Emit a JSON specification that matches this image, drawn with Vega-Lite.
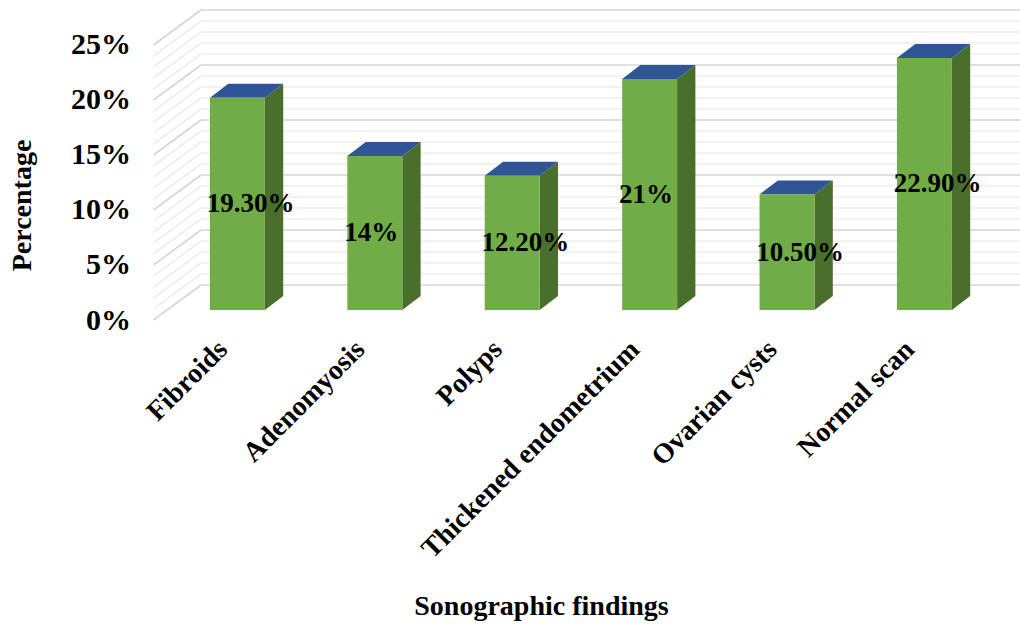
{
  "$schema": "https://vega.github.io/schema/vega-lite/v6.json",
  "autosize": "none",
  "width": 866.5,
  "height": 310,
  "padding": {"left": 153.5, "top": 10, "right": 0, "bottom": 304},
  "background": "white",
  "view": {"stroke": null},
  "datasets": {
    "findings": [
      {"slot": 0, "finding": "Fibroids", "percent": 19.3, "label": "19.30%"},
      {"slot": 1, "finding": "Adenomyosis", "percent": 14, "label": "14%"},
      {"slot": 2, "finding": "Polyps", "percent": 12.2, "label": "12.20%"},
      {"slot": 3, "finding": "Thickened endometrium", "percent": 21, "label": "21%"},
      {"slot": 4, "finding": "Ovarian cysts", "percent": 10.5, "label": "10.50%"},
      {"slot": 5, "finding": "Normal scan", "percent": 22.9, "label": "22.90%"}
    ],
    "gridlines": [
      {"level": 0}, {"level": 1}, {"level": 2}, {"level": 3}, {"level": 4}, {"level": 5},
      {"level": 6}, {"level": 7}, {"level": 8}, {"level": 9}, {"level": 10}, {"level": 11},
      {"level": 12}, {"level": 13}, {"level": 14}, {"level": 15}, {"level": 16}, {"level": 17},
      {"level": 18}, {"level": 19}, {"level": 20}, {"level": 21}, {"level": 22}, {"level": 23},
      {"level": 24}, {"level": 25}
    ]
  },
  "layer": [
    {
      "data": {"name": "gridlines"},
      "transform": [
        {"calculate": "datum.level + 3.18", "as": "wallLevel"},
        {"calculate": "-0.267", "as": "wallEdge"},
        {"calculate": "5.6937", "as": "wallEnd"}
      ],
      "mark": {"type": "rule"},
      "encoding": {
        "x": {
          "field": "wallEdge", "type": "quantitative",
          "scale": {"domain": [-0.6128, 5.6937], "nice": false, "zero": false},
          "axis": {
            "values": [0, 1, 2, 3, 4, 5],
            "labelExpr": "['Fibroids','Adenomyosis','Polyps','Thickened endometrium','Ovarian cysts','Normal scan'][datum.value]",
            "labelAngle": -45,
            "labelAlign": "right",
            "labelBaseline": "middle",
            "labelOffset": -15,
            "labelPadding": 25,
            "labelLimit": 500,
            "labelFont": "Liberation Serif",
            "labelFontWeight": "bold",
            "labelFontSize": 28,
            "labelColor": "black",
            "labelOverlap": false,
            "labelBound": false,
            "labelFlush": false,
            "domain": false,
            "ticks": false,
            "grid": false,
            "title": "Sonographic findings",
            "titleFont": "Liberation Serif",
            "titleFontWeight": "bold",
            "titleFontSize": 28,
            "titleColor": "black",
            "titleX": 387.5,
            "titleY": 286,
            "titleAlign": "center",
            "titleBaseline": "middle"
          }
        },
        "x2": {"field": "wallEnd"},
        "y": {
          "field": "wallLevel", "type": "quantitative",
          "scale": {"domain": [0, 28.18], "nice": false, "zero": false},
          "axis": {
            "values": [0, 5, 10, 15, 20, 25],
            "labelExpr": "datum.value + '%'",
            "labelOffset": 0,
            "labelPadding": 23,
            "labelFont": "Liberation Serif",
            "labelFontWeight": "bold",
            "labelFontSize": 30,
            "labelColor": "black",
            "labelOverlap": false,
            "labelBound": false,
            "domain": false,
            "ticks": false,
            "grid": false,
            "title": "Percentage",
            "titleFont": "Liberation Serif",
            "titleFontWeight": "bold",
            "titleFontSize": 28,
            "titleColor": "black",
            "titleX": -131.5,
            "titleY": 195,
            "titleAlign": "center",
            "titleBaseline": "middle",
            "titleAngle": -90
          }
        },
        "y2": {"field": "wallLevel"},
        "color": {"condition": {"test": "datum.level % 5 === 0", "value": "#d6d6d6"}, "value": "#eeeeee"},
        "strokeWidth": {"value": 1.6}
      }
    },
    {
      "data": {"name": "gridlines"},
      "transform": [
        {"calculate": "datum.level + 3.18", "as": "wallLevel"},
        {"calculate": "-0.6128", "as": "frontEdge"},
        {"calculate": "-0.267", "as": "wallEdge"}
      ],
      "mark": {"type": "rule"},
      "encoding": {
        "x": {"field": "frontEdge", "type": "quantitative", "scale": {"domain": [-0.6128, 5.6937], "nice": false, "zero": false}},
        "x2": {"field": "wallEdge"},
        "y": {"field": "level", "type": "quantitative", "scale": {"domain": [0, 28.18], "nice": false, "zero": false}},
        "y2": {"field": "wallLevel"},
        "color": {"condition": {"test": "datum.level % 5 === 0", "value": "#d6d6d6"}, "value": "#eeeeee"},
        "strokeWidth": {"value": 1.6}
      }
    },
    {
      "data": {"name": "findings"},
      "transform": [
        {"calculate": "0", "as": "near"},
        {"calculate": "1", "as": "far"},
        {"fold": ["near", "far"], "as": ["edge", "t"]},
        {"calculate": "datum.slot + 0.198 + datum.t * 0.1332", "as": "sx"},
        {"calculate": "0.909 + datum.t * 1.273", "as": "sBase"},
        {"calculate": "datum.percent + datum.sBase", "as": "sTop"}
      ],
      "mark": {"type": "area", "color": "#4a6e2c", "orient": "vertical"},
      "encoding": {
        "x": {"field": "sx", "type": "quantitative", "scale": {"domain": [-0.6128, 5.6937], "nice": false, "zero": false}},
        "y": {"field": "sBase", "type": "quantitative", "scale": {"domain": [0, 28.18], "nice": false, "zero": false}},
        "y2": {"field": "sTop"},
        "detail": {"field": "finding"}
      }
    },
    {
      "data": {"name": "findings"},
      "transform": [
        {"calculate": "0", "as": "a"},
        {"calculate": "0.1332", "as": "b"},
        {"calculate": "0.4", "as": "c"},
        {"calculate": "0.5332", "as": "d"},
        {"fold": ["a", "b", "c", "d"], "as": ["corner", "s"]},
        {"calculate": "datum.slot - 0.202 + datum.s", "as": "tx"},
        {"calculate": "datum.percent + 0.909 + max(datum.s - 0.4, 0) / 0.1332 * 1.273", "as": "tLow"},
        {"calculate": "datum.percent + 0.909 + min(datum.s, 0.1332) / 0.1332 * 1.273", "as": "tHigh"}
      ],
      "mark": {"type": "area", "color": "#2f5597", "orient": "vertical"},
      "encoding": {
        "x": {"field": "tx", "type": "quantitative", "scale": {"domain": [-0.6128, 5.6937], "nice": false, "zero": false}},
        "y": {"field": "tLow", "type": "quantitative", "scale": {"domain": [0, 28.18], "nice": false, "zero": false}},
        "y2": {"field": "tHigh"},
        "detail": {"field": "finding"}
      }
    },
    {
      "data": {"name": "findings"},
      "transform": [
        {"calculate": "datum.slot - 0.202", "as": "fx"},
        {"calculate": "datum.slot + 0.198", "as": "fx2"},
        {"calculate": "0.909", "as": "fBase"},
        {"calculate": "datum.percent + 0.909", "as": "fTop"}
      ],
      "mark": {"type": "rect", "color": "#70ad47"},
      "encoding": {
        "x": {"field": "fx", "type": "quantitative", "scale": {"domain": [-0.6128, 5.6937], "nice": false, "zero": false}},
        "x2": {"field": "fx2"},
        "y": {"field": "fBase", "type": "quantitative", "scale": {"domain": [0, 28.18], "nice": false, "zero": false}},
        "y2": {"field": "fTop"}
      }
    },
    {
      "data": {"name": "findings"},
      "transform": [
        {"calculate": "datum.slot - 0.225", "as": "lx"},
        {"calculate": "datum.percent / 2 + 0.87", "as": "ly"}
      ],
      "mark": {"type": "text", "align": "left", "baseline": "middle", "font": "Liberation Serif", "fontWeight": "bold", "fontSize": 27, "color": "black"},
      "encoding": {
        "x": {"field": "lx", "type": "quantitative", "scale": {"domain": [-0.6128, 5.6937], "nice": false, "zero": false}},
        "y": {"field": "ly", "type": "quantitative", "scale": {"domain": [0, 28.18], "nice": false, "zero": false}},
        "text": {"field": "label"}
      }
    }
  ]
}
